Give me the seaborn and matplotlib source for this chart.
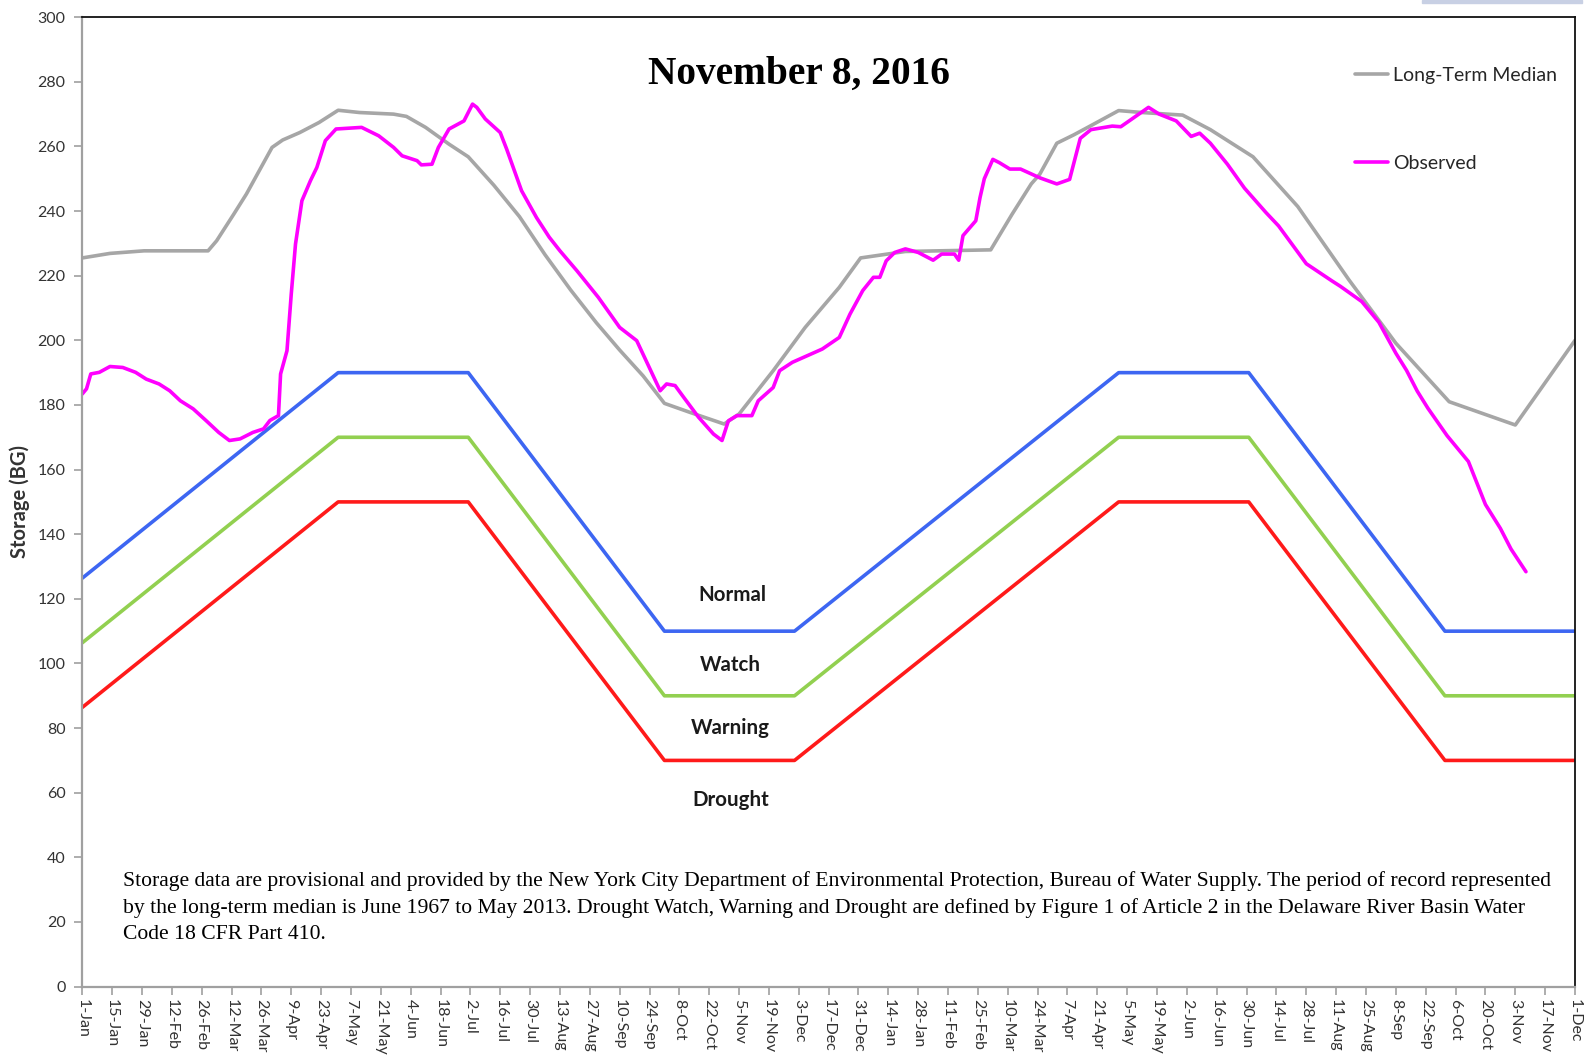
import pandas as pd
import seaborn as sns
from matplotlib import pyplot as plt
from matplotlib import dates as mdates
from matplotlib.patches import Rectangle

sns.set_theme(style="white")
plt.rcParams['font.family'] = ['Lato', 'DejaVu Sans']

# long-term median storage (BG)
median_dates = ['2015-01-01', '2015-01-14', '2015-01-30', '2015-03-01', '2015-03-05', '2015-03-13',
                '2015-03-19', '2015-03-25', '2015-03-31', '2015-04-05', '2015-04-13', '2015-04-22',
                '2015-05-01', '2015-05-11', '2015-05-27', '2015-06-02', '2015-06-11', '2015-06-22',
                '2015-07-01', '2015-07-13', '2015-07-25', '2015-08-06', '2015-08-18', '2015-08-30',
                '2015-09-10', '2015-09-21', '2015-10-01', '2015-10-13', '2015-10-29', '2015-11-05',
                '2015-11-21', '2015-12-06', '2015-12-22', '2016-01-01', '2016-01-22', '2016-03-02',
                '2016-03-12', '2016-03-21', '2016-03-25', '2016-04-02', '2016-04-10', '2016-04-19',
                '2016-05-01', '2016-05-12', '2016-05-31', '2016-06-13', '2016-07-03', '2016-07-24',
                '2016-08-17', '2016-09-08', '2016-10-03', '2016-11-03', '2016-12-01']
median_vals = [225.5, 226.9, 227.7, 227.7, 230.8, 239.0,
               245.3, 252.5, 259.7, 262.0, 264.3, 267.4,
               271.2, 270.5, 270.0, 269.3, 265.9, 260.7,
               256.8, 248.0, 238.3, 226.5, 215.6, 205.5,
               197.0, 189.0, 180.5, 177.7, 174.1, 177.2,
               190.6, 204.0, 216.4, 225.5, 227.5, 228.0,
               239.0, 248.4, 251.4, 261.0, 263.6, 266.8,
               271.1, 270.5, 269.7, 265.2, 256.8, 241.4,
               218.7, 199.1, 181.0, 173.8, 200.0]

# observed storage (BG)
obs_dates = ['2015-01-01', '2015-01-03', '2015-01-05', '2015-01-09', '2015-01-14', '2015-01-20',
             '2015-01-26', '2015-01-31', '2015-02-06', '2015-02-11', '2015-02-16', '2015-02-22',
             '2015-02-28', '2015-03-06', '2015-03-11', '2015-03-16', '2015-03-22', '2015-03-27',
             '2015-03-30', '2015-04-03', '2015-04-04', '2015-04-07', '2015-04-09', '2015-04-11',
             '2015-04-14', '2015-04-18', '2015-04-21', '2015-04-25', '2015-04-30', '2015-05-12',
             '2015-05-20', '2015-05-27', '2015-05-31', '2015-06-07', '2015-06-09', '2015-06-14',
             '2015-06-17', '2015-06-22', '2015-06-29', '2015-07-03', '2015-07-05', '2015-07-09',
             '2015-07-16', '2015-07-19', '2015-07-26', '2015-08-02', '2015-08-08', '2015-08-13',
             '2015-08-21', '2015-08-31', '2015-09-10', '2015-09-18', '2015-09-29', '2015-10-02',
             '2015-10-06', '2015-10-10', '2015-10-17', '2015-10-24', '2015-10-28', '2015-10-31',
             '2015-11-04', '2015-11-11', '2015-11-14', '2015-11-21', '2015-11-24', '2015-11-30',
             '2015-12-14', '2015-12-22', '2015-12-27', '2016-01-02', '2016-01-07', '2016-01-10',
             '2016-01-13', '2016-01-17', '2016-01-22', '2016-01-28', '2016-02-04', '2016-02-08',
             '2016-02-14', '2016-02-16', '2016-02-18', '2016-02-24', '2016-02-26', '2016-02-28',
             '2016-03-03', '2016-03-06', '2016-03-11', '2016-03-16', '2016-03-21', '2016-03-25',
             '2016-04-02', '2016-04-08', '2016-04-13', '2016-04-18', '2016-04-28', '2016-05-02',
             '2016-05-07', '2016-05-15', '2016-05-20', '2016-05-28', '2016-06-04', '2016-06-08',
             '2016-06-13', '2016-06-21', '2016-06-29', '2016-07-09', '2016-07-15', '2016-07-28',
             '2016-08-09', '2016-08-13', '2016-08-23', '2016-08-31', '2016-09-08', '2016-09-13',
             '2016-09-18', '2016-09-23', '2016-10-02', '2016-10-12', '2016-10-20', '2016-10-27',
             '2016-11-01', '2016-11-08']
obs_vals = [183.4, 185.0, 189.6, 190.1, 191.9, 191.6,
            190.1, 188.0, 186.5, 184.4, 181.3, 178.8,
            175.2, 171.5, 169.0, 169.5, 171.5, 172.6,
            175.2, 176.7, 189.6, 196.8, 214.3, 229.8,
            243.2, 249.4, 253.5, 261.8, 265.4, 265.9,
            263.3, 259.7, 257.1, 255.6, 254.3, 254.5,
            259.7, 265.4, 267.9, 273.1, 272.1, 268.5,
            264.3, 259.2, 246.3, 238.0, 231.9, 227.7,
            221.5, 213.3, 204.0, 199.9, 184.4, 186.5,
            186.0, 182.4, 176.2, 171.0, 169.0, 175.1,
            176.7, 176.7, 181.3, 185.4, 190.6, 193.2,
            197.3, 200.9, 208.1, 215.4, 219.5, 219.5,
            224.6, 227.2, 228.3, 227.2, 224.8, 226.7,
            226.7, 224.8, 232.4, 237.0, 244.2, 250.0,
            256.0, 255.0, 253.0, 253.0, 251.5, 250.3,
            248.4, 249.8, 262.5, 265.2, 266.3, 266.1,
            268.4, 272.1, 270.0, 267.9, 263.1, 264.1,
            261.0, 254.5, 247.1, 239.6, 235.4, 223.7,
            218.4, 216.7, 212.0, 205.6, 196.0, 190.7,
            184.3, 179.0, 170.5, 162.5, 149.2, 141.8,
            135.4, 128.4]

# drought rule curve breakpoints
rule_dates = ['2015-01-01', '2015-05-01', '2015-07-01', '2015-10-01', '2015-12-01',
              '2016-05-01', '2016-07-01', '2016-10-01', '2016-12-01']
normal_vals = [126.4, 190, 190, 110, 110, 190, 190, 110, 110]
watch_vals = [106.4, 170, 170, 90, 90, 170, 170, 90, 90]
warning_vals = [86.4, 150, 150, 70, 70, 150, 150, 70, 70]

median = pd.DataFrame({'date': pd.to_datetime(median_dates), 'storage': median_vals})
observed = pd.DataFrame({'date': pd.to_datetime(obs_dates), 'storage': obs_vals})
rules = pd.DataFrame({'date': pd.to_datetime(rule_dates), 'normal': normal_vals,
                      'watch': watch_vals, 'warning': warning_vals})

fig = plt.figure(figsize=(15.85, 10.61), dpi=100)
ax = fig.add_axes([0.0519, 0.0701, 0.9418, 0.9137])

sns.lineplot(x='date', y='normal', data=rules, color='#3d66f2', lw=2.6, ax=ax)
sns.lineplot(x='date', y='watch', data=rules, color='#92d050', lw=2.6, ax=ax)
sns.lineplot(x='date', y='warning', data=rules, color='#ff1a1a', lw=2.6, ax=ax)
sns.lineplot(x='date', y='storage', data=median, color='#a6a6a6', lw=2.6, ax=ax,
             label='Long-Term Median')
sns.lineplot(x='date', y='storage', data=observed, color='#ff00ff', lw=2.6, ax=ax,
             label='Observed')

ax.set_xlim(pd.Timestamp('2015-01-01'), pd.Timestamp('2016-12-01'))
ax.set_ylim(0, 300)
ax.set_yticks(range(0, 301, 20))
ax.set_xticks(pd.date_range('2015-01-01', '2016-12-01', freq='14D'))
ax.xaxis.set_major_formatter(mdates.DateFormatter('%-d-%b'))
ax.tick_params(axis='x', rotation=-90, labelsize=11.5, colors='#a0a0a0', labelcolor='#333333',
               length=6, width=1.2, direction='out', pad=3, bottom=True)
ax.tick_params(axis='y', labelsize=11.5, colors='#a0a0a0', labelcolor='#333333',
               length=6, width=1.2, direction='out', pad=6, left=True)
for lab in ax.get_xticklabels():
    lab.set_va('top')
    lab.set_ha('center')

ax.set_xlabel('')
ax.set_ylabel('Storage (BG)', fontsize=14.5, fontweight='bold', color='#333333')
ax.yaxis.set_label_coords(-0.035, 0.5)

for side in ['left', 'bottom']:
    ax.spines[side].set_color('#a0a0a0')
    ax.spines[side].set_linewidth(1.6)
for side in ['top', 'right']:
    ax.spines[side].set_color('#111111')
    ax.spines[side].set_linewidth(1.3)

# region labels
for lbl, day, val in [('Normal', '2015-11-02', 121.1), ('Watch', '2015-11-01', 99.5),
                      ('Warning', '2015-11-01', 80.1), ('Drought', '2015-11-01', 57.6)]:
    ax.text(pd.Timestamp(day), val, lbl, ha='center', va='center', fontsize=14.8,
            fontweight='bold', color='#1a1a1a')

fig.text(0.504, 0.930, 'November 8, 2016', ha='center', va='center', fontsize=28.4,
         fontweight='bold', family='Liberation Serif', color='black')

note = ('Storage data are provisional and provided by the New York City Department of Environmental '
        'Protection, Bureau of Water Supply. The period of record represented\n'
        'by the long-term median is June 1967 to May 2013. Drought Watch, Warning and Drought are '
        'defined by Figure 1 of Article 2 in the Delaware River Basin Water\n'
        'Code 18 CFR Part 410.')
fig.text(0.0776, 0.179, note, ha='left', va='top', fontsize=15.6, family='Liberation Serif',
         color='black', linespacing=1.5)

ax.legend(loc='upper left', bbox_to_anchor=(1355 / 1585, 1 - 67 / 1061),
          bbox_transform=fig.transFigure, frameon=False, fontsize=14, handlelength=1.7,
          handletextpad=0.25, labelspacing=3.66, borderpad=0, borderaxespad=0)

fig.patches.append(Rectangle((1422 / 1585, 1 - 3 / 1061), 160 / 1585, 3 / 1061,
                             transform=fig.transFigure, color='#c8d0e4'))

fig.savefig('out.png', dpi=100)
